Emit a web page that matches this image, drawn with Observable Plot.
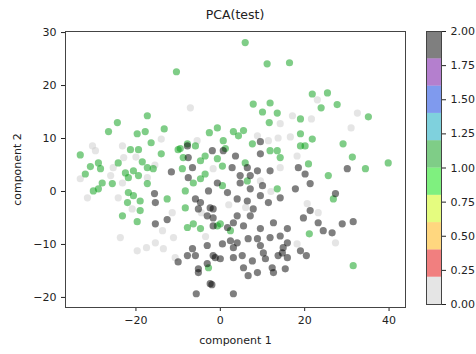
<!DOCTYPE html>
<html>
<head>
<meta charset="utf-8">
<script src="https://cdn.jsdelivr.net/npm/d3@7"></script>
<script src="https://cdn.jsdelivr.net/npm/@observablehq/plot@0.6"></script>
<style>
  html, body { margin: 0; padding: 0; background: #fff; }
  #wrap { position: relative; width: 476px; height: 354px; overflow: hidden; font-family: "DejaVu Sans", sans-serif; }
  #title { position: absolute; left: 65px; width: 340px; top: 7px; text-align: center; font-size: 12.5px; color: #222; }
  #main { position: absolute; left: 0; top: 0; }
  #cbar { position: absolute; left: 426px; top: 0; }
</style>
</head>
<body>
<div id="wrap">
  <div id="main"></div>
  <div id="cbar"></div>
  <div id="title">PCA(test)</div>
</div>
<script>
// ---- data ----
const class0X = [-7.1,-14.0,-30.3,-29.6,-23.2,-22.9,-25.4,-33.2,-31.5,-24.2,-23.2,-20.9,-23.7,-19.7,-17.5,-15.4,-13.5,-11.1,-10.7,-13.7,-11.4,-17.3,-5.5,20.6,23.2,27.3,18.2,8.8,11.4,13.7,14.2,17.1,16.6,-1.7,14.2,23.0,32.5,21.6,31.0,18.2,-4.5,6.0,9.5,2.0,-3.5,12.0,-26.0,-20.0,-15.5];
const class0Y = [15.8,9.9,8.6,7.7,8.6,6.4,4.5,2.4,-1.2,-1.2,1.6,-3.3,-8.7,-11.2,-10.6,-9.7,-10.8,-8.7,-12.5,-7.4,-4.0,2.6,9.6,-2.3,-4.0,-9.7,-9.9,10.5,9.6,10.1,12.8,14.3,10.3,4.3,4.5,17.3,14.8,13.7,12.0,6.7,-4.0,-3.0,2.0,-2.5,-8.5,0.0,3.0,6.5,5.0];

const class1X = [5.9,11.1,16.4,-10.4,-24.4,-26.5,-17.3,-13.3,-19.7,-17.8,-16.4,-33.2,-21.3,-19.4,-14.0,-10.0,-28.9,-30.8,-28.4,-24.2,-18.5,-17.3,-20.6,-22.5,-15.9,-19.4,-32.0,-28.9,-30.1,-28.0,-25.6,-21.8,-17.3,-21.8,-20.6,-19.0,-22.0,-19.0,-23.2,-19.7,-12.6,-8.3,-6.4,-7.8,-2.8,0.0,2.4,-8.3,-6.4,-4.7,0.5,-4.7,13.5,6.4,-0.7,25.6,34.4,39.8,26.8,21.1,31.5,7.8,11.8,10.0,13.5,11.6,-2.6,3.1,5.5,4.3,7.6,11.8,13.5,14.2,-7.8,-5.9,-9.5,-8.8,-3.6,0.7,1.2,-0.7,5.9,0.5,-4.7,-3.6,-9.0,21.8,25.4,23.9,27.7,35.1,19.0,19.0,21.8,19.0,20.1,29.1,31.3,20.9,-0.7];
const class1Y = [28.1,24.1,24.3,22.6,13.0,11.3,14.3,11.8,10.9,11.3,9.2,6.9,7.9,7.9,7.1,7.9,5.4,4.7,4.3,5.4,5.6,4.5,3.9,3.5,4.3,3.0,3.3,0.5,0.1,1.6,1.5,2.6,1.5,-0.2,-0.8,-1.8,-2.1,-3.6,-4.6,-5.7,-1.4,-3.1,-6.1,-6.8,-14.4,-6.1,-7.4,0.1,1.6,-7.0,1.1,2.4,0.5,2.0,-6.5,3.0,4.3,5.4,-1.4,-8.0,-14.0,16.5,16.7,15.0,14.8,13.0,11.1,11.3,11.5,10.5,9.0,7.7,7.7,6.4,9.0,8.6,8.1,6.4,6.7,9.6,8.1,6.2,5.4,4.8,5.8,3.3,4.3,18.4,18.6,15.8,16.4,14.1,13.7,10.9,9.9,8.6,8.6,9.0,6.5,5.2,12.0];

const class2X = [-7.8,0.7,3.6,-7.6,-11.6,-7.6,2.8,-15.6,-15.4,-15.4,-12.6,-10.0,-6.6,-5.2,-2.4,-5.7,3.1,-3.1,-1.2,-4.7,-5.9,-2.8,-2.4,0.5,3.1,1.7,4.0,-1.7,-1.7,1.7,-0.7,4.0,6.4,7.8,7.1,9.5,11.4,14.2,4.7,17.8,-3.1,-1.7,3.1,5.5,9.5,12.6,15.9,14.2,11.8,8.8,6.6,4.0,3.1,9.5,10.2,15.9,14.9,14.7,13.7,15.9,-1.7,0.0,-3.1,-7.8,-5.9,-5.2,5.2,5.5,7.6,6.6,8.8,12.3,12.6,15.4,10.7,-5.2,2.4,18.5,20.1,21.3,30.1,27.3,21.3,19.7,23.2,24.4,26.5,28.9,31.5,19.0,20.4,9.5,-1.9,9.5,11.8,6.4,4.7,7.1,-6.6,8.8,7.1,10.0,-2.0];
const class2Y = [8.6,7.7,6.7,6.4,3.7,2.6,4.5,-0.4,-2.1,-6.1,-5.3,-13.3,-10.8,-14.6,-17.4,-19.3,-19.3,-10.2,-12.5,-2.1,-1.4,0.1,-3.1,-9.9,-12.5,-6.8,-4.6,-5.0,-3.3,-0.2,1.6,-1.4,-1.8,-3.3,0.5,-0.8,-2.1,-1.2,1.6,0.5,-4.6,-6.5,-5.9,-6.5,-7.0,-5.9,-7.0,-8.4,-8.7,-8.9,-8.9,-9.7,-10.6,-10.2,-11.6,-9.7,-10.6,-11.6,-12.1,-12.5,-12.1,-12.7,-13.6,-12.1,-12.1,-15.3,-12.1,-14.4,-13.1,-15.9,-15.3,-14.4,-15.3,-14.6,-12.7,-3.3,-9.3,4.5,3.3,1.5,4.3,-0.4,-3.6,-5.0,-5.9,-7.4,-7.8,-6.1,-5.7,-11.2,-12.1,9.4,7.7,7.1,3.9,4.5,3.0,3.0,4.5,3.9,-4.6,1.1,-17.6];

// colour bar: 10 bins from 0 to 2 (reversed spectral palette)
const barStarts = [0.0,0.2,0.4,0.6,0.8,1.0,1.2,1.4,1.6,1.8];
const barColors = ["#cccccc","#e40000","#ffb000","#ccf900","#00e100","#009b0f","#00a4bb","#0035dd","#6a009d","#000000"];
const barTicks = [0,0.25,0.5,0.75,1.0,1.25,1.5,1.75,2.0];
const xTicks = [-20,0,20,40];
const yTicks = [-20,-10,0,10,20,30];

// ---- build table ----
const points = [];
[[class0X,class0Y,0],[class1X,class1Y,1],[class2X,class2Y,2]].forEach(([xs,ys,c]) => {
  xs.forEach((x,i) => points.push({x, y: ys[i], c}));
});
const colorOf = v => barColors[Math.min(9, Math.floor(v / 0.2 + 1e-9))];

const main = Plot.plot({
  width: 420, height: 354,
  marginLeft: 65, marginRight: 15, marginTop: 31, marginBottom: 47,
  style: {fontFamily: "DejaVu Sans, sans-serif", fontSize: "11px", color: "#222", background: "#fff"},
  x: {domain: [-36.7, 43.9], ticks: xTicks, tickSize: 4, label: "component 1", labelArrow: "none", labelAnchor: "center", labelOffset: 36},
  y: {domain: [-21.9, 30.2], ticks: yTicks, tickSize: 4, label: "component 2", labelArrow: "none", labelAnchor: "center", labelOffset: 52},
  marks: [
    Plot.dot(points, {x: "x", y: "y", r: 3.6, fill: d => colorOf(d.c), fillOpacity: 0.5, stroke: "none"}),
    Plot.frame({stroke: "#444"})
  ]
});
document.getElementById("main").appendChild(main);

const bins = barStarts.map((s,i) => ({y1: s, y2: s + 0.2, col: barColors[i]}));
const cbar = Plot.plot({
  width: 50, height: 354,
  marginLeft: 0, marginRight: 35, marginTop: 31, marginBottom: 50,
  style: {fontFamily: "DejaVu Sans, sans-serif", fontSize: "11px", color: "#222", background: "transparent"},
  y: {domain: [0, 2], ticks: barTicks, tickFormat: d3.format(".2f"), tickSize: 4, label: null, axis: "right"},
  marks: [
    Plot.rect(bins, {y1: "y1", y2: "y2", fill: "col", fillOpacity: 0.5}),
    Plot.frame({stroke: "#444"})
  ]
});
document.getElementById("cbar").appendChild(cbar);
</script>
</body>
</html>
